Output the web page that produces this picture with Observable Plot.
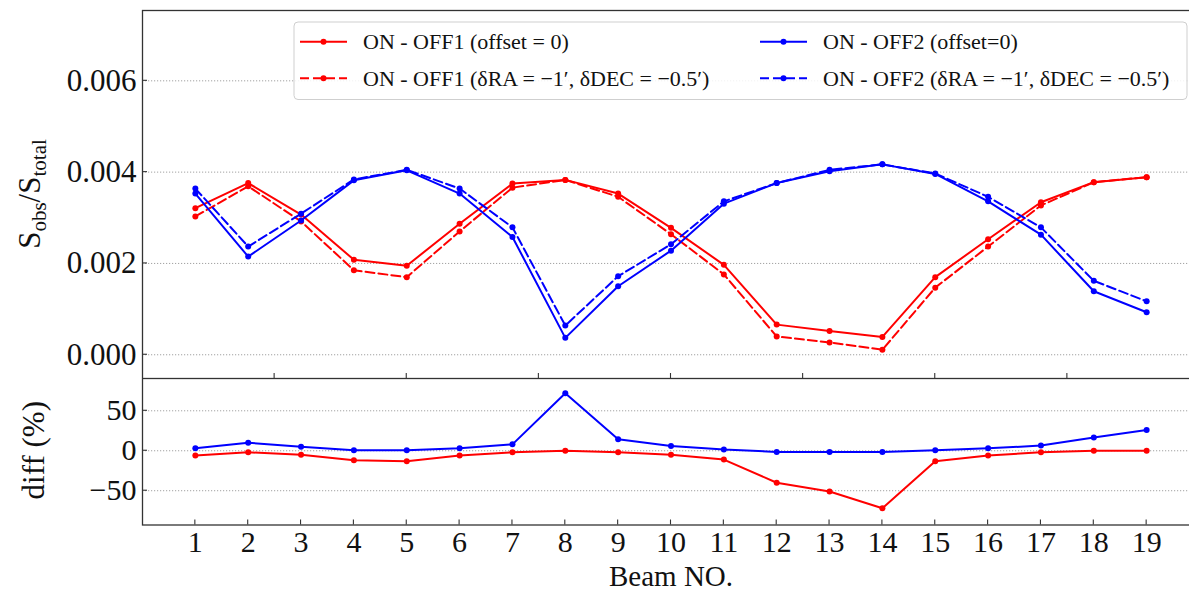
<!DOCTYPE html>
<html><head><meta charset="utf-8">
<script src="https://cdn.jsdelivr.net/npm/d3@7"></script>
<script src="https://cdn.jsdelivr.net/npm/@observablehq/plot@0.6"></script>
<style>
html,body{margin:0;padding:0;background:#fff;overflow:hidden;}
#chart{position:relative;width:1189px;height:594px;overflow:hidden;}
#chart svg{display:block;}
</style></head><body><div id="chart"></div>
<script>
// ---- data ----
const beams = [1,2,3,4,5,6,7,8,9,10,11,12,13,14,15,16,17,18,19];
const onOff1      = [0.00321,0.00376,0.00307,0.00208,0.00195,0.00287,0.00375,0.00383,0.00353,0.00278,0.00197,0.00066,0.00052,0.00039,0.00170,0.00253,0.00334,0.00378,0.00389];
const onOff1Shift = [0.00303,0.00369,0.00292,0.00185,0.00170,0.00270,0.00366,0.00383,0.00346,0.00264,0.00176,0.00040,0.00027,0.00011,0.00147,0.00237,0.00327,0.00378,0.00389];
const onOff2      = [0.00353,0.00215,0.00294,0.00382,0.00404,0.00353,0.00258,0.00037,0.00150,0.00228,0.00331,0.00376,0.00402,0.00417,0.00396,0.00336,0.00263,0.00139,0.00093];
const onOff2Shift = [0.00364,0.00237,0.00309,0.00384,0.00405,0.00364,0.00279,0.00064,0.00172,0.00242,0.00336,0.00376,0.00405,0.00417,0.00397,0.00346,0.00279,0.00162,0.00117];
const diff1 = [-6,-2,-5,-12,-13,-6,-2,0,-2,-5,-11,-40,-51,-72,-13,-6,-2,0,0];
const diff2 = [3,10,5,0.5,0.5,3,8,72,14.5,6,1.5,-1.5,-1.5,-1.5,0.5,3,6.5,16.5,26];
const seriesNames = [
  "ON - OFF1 (offset = 0)",
  "ON - OFF1 (δRA = −1′, δDEC = −0.5′)",
  "ON - OFF2 (offset=0)",
  "ON - OFF2 (δRA = −1′, δDEC = −0.5′)"
];
const topYTicks = [0, 0.002, 0.004, 0.006];
const topXMinorTicks = [2.5, 5, 7.5, 10, 12.5, 15, 17.5];
const bottomYTicks = [-50, 0, 50];
const xTicks = beams;
const xLabel = "Beam NO.";
const bottomYLabel = "diff (%)";

// ---- styles ----
const RED = "#ff0000", BLUE = "#0000ff";
const FONT = "'Liberation Serif','Times New Roman',serif";
const styles = [
  {color: RED, dash: null},
  {color: RED, dash: "9,4"},
  {color: BLUE, dash: null},
  {color: BLUE, dash: "9,4"}
];
const topSeries = [onOff1, onOff1Shift, onOff2, onOff2Shift];
const W = 1189;
const xDomain = [0, 20];

function seriesMarks(values, st) {
  const rows = beams.map((b, i) => ({beam: b, value: values[i]}));
  return [
    Plot.line(rows, {x: "beam", y: "value", stroke: st.color, strokeWidth: 2, strokeDasharray: st.dash}),
    Plot.dot(rows, {x: "beam", y: "value", r: 3, fill: st.color, stroke: "none"})
  ];
}
const gridStyle = {stroke: "#8a8a8a", strokeWidth: 0.8, strokeDasharray: "1.2,1.8"};

const topPlot = Plot.plot({
  width: W, height: 378,
  marginLeft: 142, marginRight: -10, marginTop: 10, marginBottom: 0,
  style: {fontFamily: FONT, background: "transparent", color: "#111"},
  x: {domain: xDomain, axis: null},
  y: {domain: [-0.00052, 0.00754], axis: null},
  marks: [
    Plot.ruleY(topYTicks, gridStyle),
    Plot.axisY(topYTicks, {anchor: "left", tickSize: 0, tickPadding: 6, fontSize: 31, tickFormat: d3.format(".3f"), label: null}),
    ...topSeries.flatMap((s, i) => seriesMarks(s, styles[i])),
    Plot.frame({stroke: "#333", strokeWidth: 1.3})
  ]
});

const bottomPlot = Plot.plot({
  width: W, height: 216,
  marginLeft: 142, marginRight: -10, marginTop: 0, marginBottom: 69.5,
  style: {fontFamily: FONT, background: "transparent", color: "#111"},
  x: {domain: xDomain, axis: null},
  y: {domain: [-92.9, 90.4], axis: null},
  marks: [
    Plot.ruleY(bottomYTicks, gridStyle),
    Plot.axisY(bottomYTicks, {anchor: "left", tickSize: 0, tickPadding: 6, fontSize: 30, tickFormat: d => d < 0 ? "−" + Math.abs(d) : String(d), label: null}),
    Plot.axisX(xTicks, {anchor: "bottom", tickSize: 0, tickPadding: 6, fontSize: 30, label: null}),
    ...seriesMarks(diff1, styles[0]),
    ...seriesMarks(diff2, styles[2]),
    Plot.text([xLabel], {frameAnchor: "bottom", dy: 52, fontSize: 29, lineAnchor: "middle", fill: "#111"}),
    Plot.frame({stroke: "#333", strokeWidth: 1.3})
  ]
});

const chart = document.getElementById("chart");
chart.append(topPlot, bottomPlot);

// inward ticks using the plots' scales
function inwardTicks(plot, yTicks, xTicksArr) {
  const sx = plot.scale("x"), sy = plot.scale("y");
  const svg = d3.select(plot);
  const x0 = sx.apply(xDomain[0]);
  const yBot = sy.apply(sy.domain[0]);
  const g = svg.append("g").attr("stroke", "#333").attr("stroke-width", 1.1);
  yTicks.forEach(v => g.append("line").attr("x1", x0).attr("x2", x0 + 5).attr("y1", sy.apply(v)).attr("y2", sy.apply(v)));
  xTicksArr.forEach(v => g.append("line").attr("x1", sx.apply(v)).attr("x2", sx.apply(v)).attr("y1", yBot).attr("y2", yBot - 5));
}
inwardTicks(topPlot, topYTicks, topXMinorTicks);
inwardTicks(bottomPlot, bottomYTicks, xTicks);

// y labels
{
  const svg = d3.select(topPlot);
  const t = svg.append("text").attr("transform", "translate(40,194) rotate(-90)")
    .attr("text-anchor", "middle").attr("font-family", FONT).attr("font-size", 31).attr("fill", "#111");
  t.append("tspan").text("S");
  t.append("tspan").attr("font-size", 21).attr("dy", 6).text("obs");
  t.append("tspan").attr("dy", -6).text("/S");
  t.append("tspan").attr("font-size", 21).attr("dy", 6).text("total");
}
{
  const svg = d3.select(bottomPlot);
  const sy = bottomPlot.scale("y");
  svg.append("text").attr("transform", `translate(44,${sy.apply(0)}) rotate(-90)`)
    .attr("text-anchor", "middle").attr("font-family", FONT).attr("font-size", 31).attr("fill", "#111")
    .text(bottomYLabel);
}

// legend
{
  const svg = d3.select(topPlot);
  const g = svg.append("g").attr("font-family", FONT).attr("font-size", 22).attr("fill", "#111")
    .attr("text-anchor", "start");
  g.append("rect").attr("x", 294).attr("y", 22).attr("width", 893).attr("height", 77.5).attr("rx", 4)
    .attr("fill", "#fff").attr("fill-opacity", 0.85).attr("stroke", "#cfcfcf").attr("stroke-width", 1);
  const cols = [300, 760];
  const rowsY = [41.7, 78.3];
  seriesNames.forEach((name, i) => {
    const col = Math.floor(i / 2), row = i % 2;
    const x = cols[col], y = rowsY[row], st = styles[i];
    g.append("line").attr("x1", x).attr("x2", x + 47).attr("y1", y).attr("y2", y)
      .attr("stroke", st.color).attr("stroke-width", 2).attr("stroke-dasharray", st.dash);
    g.append("circle").attr("cx", x + 23.5).attr("cy", y).attr("r", 3).attr("fill", st.color);
    g.append("text").attr("x", x + 63).attr("y", y).attr("dy", "0.35em").attr("text-anchor", "start").text(name);
  });
}
</script></body></html>
